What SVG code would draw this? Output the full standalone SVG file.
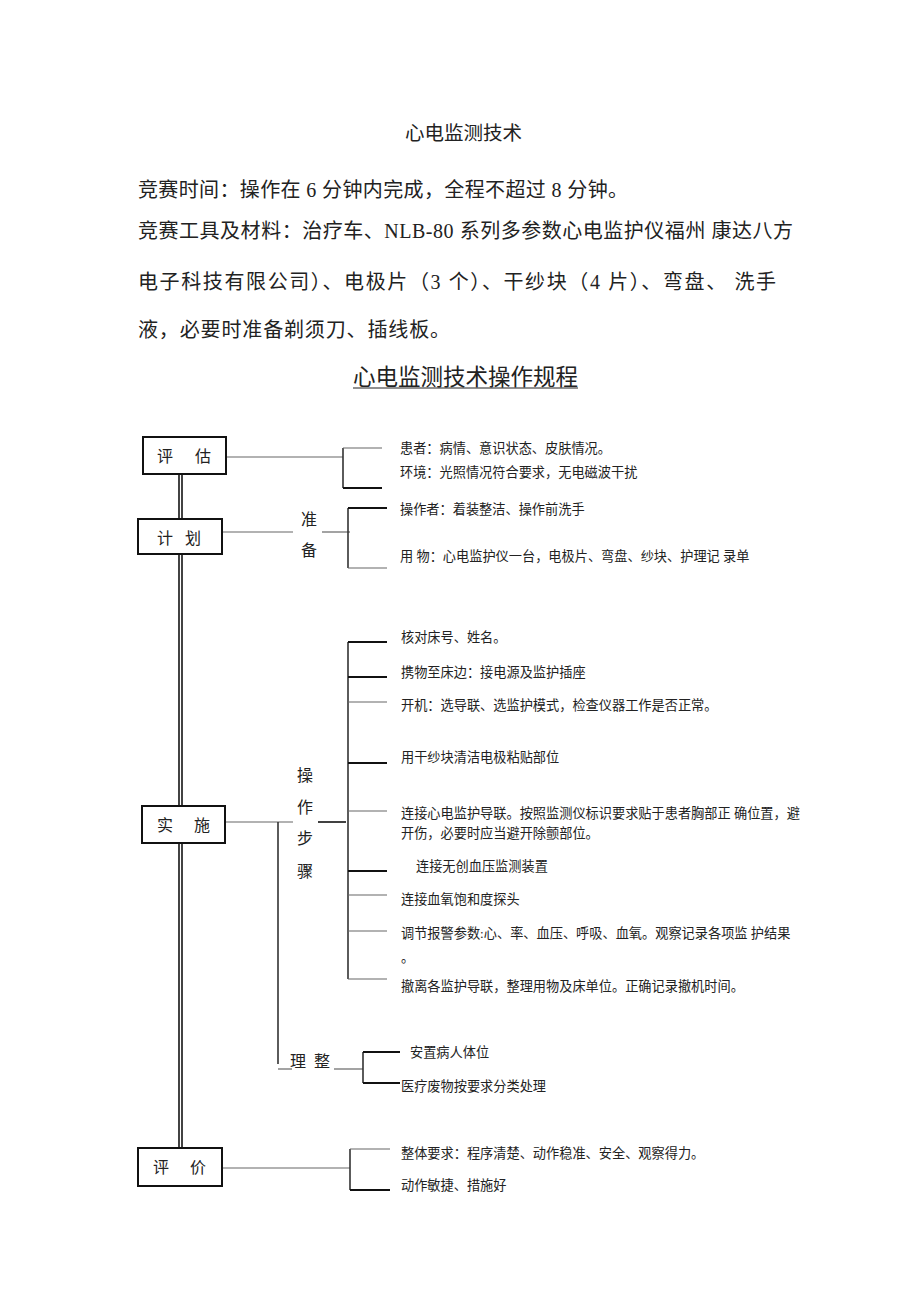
<svg xmlns="http://www.w3.org/2000/svg" width="920" height="1302" viewBox="0 0 920 1302">
<style>
text{font-family:"Liberation Serif","Noto Sans CJK SC",serif;fill:#222;dominant-baseline:central}
.body{font-size:20px}
.sm{font-size:13.2px}
.lbl{font-size:16px}
.box{fill:#fff;stroke:#111;stroke-width:2}
.thin{stroke:#666;stroke-width:1.2;fill:none}
.thk{stroke:#111;stroke-width:2.2;fill:none}
.vert{stroke:#333;stroke-width:1.6;fill:none}
.spine{stroke:#222;stroke-width:1.7;fill:none}
</style>
<rect width="920" height="1302" fill="#fff"/>
<g id="header">
<text x="405" y="133" style="font-size:19.5px">心电监测技术</text>
<text class="body" x="138" y="190" textLength="490" lengthAdjust="spacing">竞赛时间：操作在 6 分钟内完成，全程不超过 8 分钟。</text>
<text class="body" x="138" y="231" textLength="655" lengthAdjust="spacing">竞赛工具及材料：治疗车、NLB-80 系列多参数心电监护仪福州 康达八方</text>
<text class="body" x="138" y="282" textLength="638" lengthAdjust="spacing">电子科技有限公司）、电极片（3 个）、干纱块（4 片）、弯盘、 洗手</text>
<text class="body" x="138" y="330" textLength="312" lengthAdjust="spacing">液，必要时准备剃须刀、插线板。</text>
<text x="353" y="377" style="font-size:22.5px" textLength="225" lengthAdjust="spacing">心电监测技术操作规程</text>
<line x1="353" y1="388" x2="578" y2="388" stroke="#222" stroke-width="1.2"/>
</g>
<g id="connectors">
<line class="spine" x1="179" y1="474" x2="179" y2="1148"/>
<line class="spine" x1="182" y1="474" x2="182" y2="1148"/>
<line class="thin" x1="226" y1="457" x2="343" y2="457"/>
<line class="vert" x1="343" y1="448" x2="343" y2="488"/>
<line class="thin" x1="343" y1="448" x2="382" y2="448"/>
<line class="thk" x1="343" y1="488" x2="382" y2="488"/>
<line class="thin" x1="222" y1="532" x2="293" y2="532"/>
<line class="thin" x1="322" y1="532" x2="350" y2="532"/>
<line class="vert" x1="348" y1="508" x2="348" y2="568"/>
<line class="thk" x1="348" y1="508" x2="387" y2="508"/>
<line class="thin" x1="348" y1="568" x2="387" y2="568"/>
<line class="thin" x1="225" y1="822" x2="293" y2="822"/>
<line class="thk" x1="318" y1="822" x2="346" y2="822" style="stroke-width:1.6"/>
<line class="vert" x1="348" y1="642" x2="348" y2="979"/>
<line class="thk" x1="348" y1="642" x2="387" y2="642"/>
<line class="thk" x1="348" y1="677" x2="387" y2="677"/>
<line class="thin" x1="348" y1="702" x2="387" y2="702"/>
<line class="thk" x1="348" y1="763" x2="387" y2="763"/>
<line class="thin" x1="348" y1="811" x2="387" y2="811"/>
<line class="thk" x1="348" y1="871" x2="387" y2="871"/>
<line class="thin" x1="348" y1="895" x2="387" y2="895"/>
<line class="thin" x1="348" y1="931" x2="387" y2="931"/>
<line class="thin" x1="348" y1="979" x2="387" y2="979"/>
<line class="vert" x1="278" y1="822" x2="278" y2="1064"/>
<line class="thin" x1="278" y1="1069" x2="292" y2="1069"/>
<line class="thin" x1="334" y1="1069" x2="363" y2="1069"/>
<line class="vert" x1="363" y1="1052" x2="363" y2="1083"/>
<line class="thk" x1="363" y1="1052" x2="400" y2="1052"/>
<line class="thk" x1="363" y1="1083" x2="400" y2="1083"/>
<line class="thin" x1="222" y1="1168" x2="350" y2="1168"/>
<line class="vert" x1="350" y1="1149" x2="350" y2="1190"/>
<line class="thin" x1="350" y1="1149" x2="390" y2="1149"/>
<line class="thk" x1="350" y1="1190" x2="390" y2="1190"/>
</g>
<g id="node-pinggu">
<rect class="box" x="143" y="437" width="83" height="37"/>
<text class="lbl" x="157" y="456">评</text>
<text class="lbl" x="195" y="456">估</text>
</g>
<g id="node-jihua">
<rect class="box" x="138" y="519" width="84" height="35"/>
<text class="lbl" x="157" y="538">计</text>
<text class="lbl" x="185" y="538">划</text>
</g>
<g id="node-shishi">
<rect class="box" x="142" y="806" width="83" height="37"/>
<text class="lbl" x="157" y="825">实</text>
<text class="lbl" x="194" y="825">施</text>
</g>
<g id="node-pingjia">
<rect class="box" x="138" y="1148" width="84" height="38"/>
<text class="lbl" x="153" y="1167">评</text>
<text class="lbl" x="190" y="1167">价</text>
</g>
<g id="node-zhunbei">
<text class="lbl" x="301" y="519">准</text>
<text class="lbl" x="301" y="550">备</text>
</g>
<g id="node-caozuobuzhou">
<text class="lbl" x="297" y="775">操</text>
<text class="lbl" x="297" y="807">作</text>
<text class="lbl" x="297" y="838">步</text>
<text class="lbl" x="297" y="871">骤</text>
</g>
<g id="node-lizheng">
<text class="lbl" x="290" y="1061">理</text>
<text class="lbl" x="314" y="1061">整</text>
</g>
<g id="items-pinggu">
<text class="sm" x="400" y="448">患者：病情、意识状态、皮肤情况。</text>
<text class="sm" x="400" y="472">环境：光照情况符合要求，无电磁波干扰</text>
</g>
<g id="items-jihua">
<text class="sm" x="400" y="509">操作者：着装整洁、操作前洗手</text>
<text class="sm" x="400" y="556">用 物：心电监护仪一台，电极片、弯盘、纱块、护理记 录单</text>
</g>
<g id="items-caozuo">
<text class="sm" x="401" y="637">核对床号、姓名。</text>
<text class="sm" x="401" y="672">携物至床边：接电源及监护插座</text>
<text class="sm" x="401" y="705">开机：选导联、选监护模式，检查仪器工作是否正常。</text>
<text class="sm" x="401" y="757">用干纱块清洁电极粘贴部位</text>
<text class="sm" x="401" y="813">连接心电监护导联。按照监测仪标识要求贴于患者胸部正 确位置，避</text>
<text class="sm" x="401" y="833">开伤，必要时应当避开除颤部位。</text>
<text class="sm" x="416" y="866">连接无创血压监测装置</text>
<text class="sm" x="401" y="899">连接血氧饱和度探头</text>
<text class="sm" x="401" y="933">调节报警参数:心、率、血压、呼吸、血氧。观察记录各项监 护结果</text>
<text class="sm" x="401" y="957">。</text>
<text class="sm" x="401" y="986">撤离各监护导联，整理用物及床单位。正确记录撤机时间。</text>
</g>
<g id="items-lizheng">
<text class="sm" x="410" y="1052">安置病人体位</text>
<text class="sm" x="401" y="1086">医疗废物按要求分类处理</text>
</g>
<g id="items-pingjia">
<text class="sm" x="401" y="1153">整体要求：程序清楚、动作稳准、安全、观察得力。</text>
<text class="sm" x="401" y="1185">动作敏捷、措施好</text>
</g>
</svg>
